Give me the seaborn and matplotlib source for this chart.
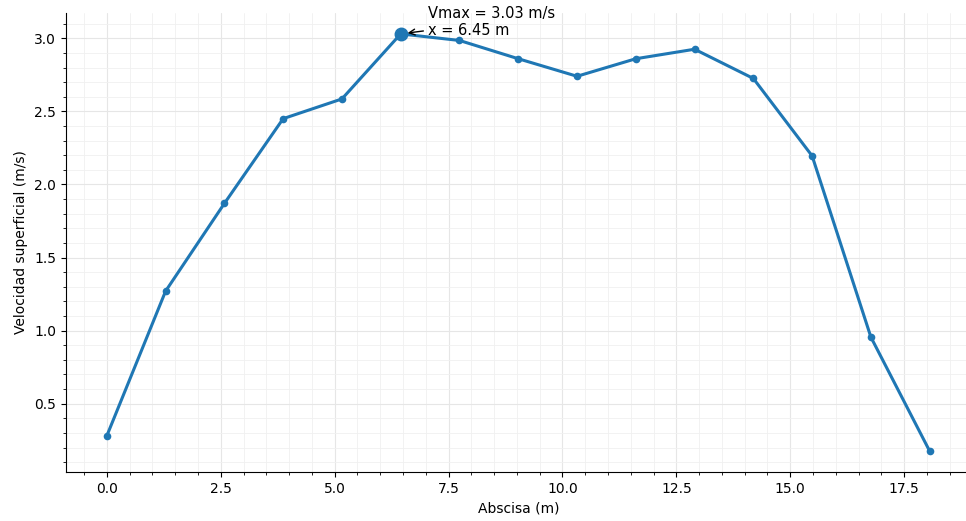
import numpy as np
import pandas as pd
import matplotlib
matplotlib.use("Agg")
import matplotlib.pyplot as plt
import seaborn as sns

# Velocity profile
abscisa = [0.0, 1.29, 2.58, 3.87, 5.16, 6.45, 7.74, 9.03, 10.32, 11.61, 12.90, 14.19, 15.48, 16.77, 18.06]
velocidad = [0.28, 1.27, 1.87, 2.45, 2.585, 3.03, 2.985, 2.86, 2.74, 2.86, 2.925, 2.725, 2.195, 0.955, 0.175]

df = pd.DataFrame({"Abscisa": abscisa, "Velocidad": velocidad})

sns.set_style("ticks", {"axes.edgecolor": "black", "text.color": "black",
                        "axes.labelcolor": "black", "xtick.color": "black",
                        "ytick.color": "black"})
plt.rcParams["font.family"] = ["DejaVu Sans"]

fig, ax = plt.subplots(figsize=(9.66, 5.21), dpi=100)

sns.lineplot(data=df, x="Abscisa", y="Velocidad", marker="o", markersize=5.5,
             markeredgewidth=0, linewidth=2.2, color="#1f77b4", ax=ax)

# Highlight the maximum
imax = int(np.argmax(velocidad))
xmax, vmax = abscisa[imax], velocidad[imax]
ax.plot([xmax], [vmax], "o", markersize=9, color="#1f77b4")
ax.annotate(f"Vmax = {vmax:.2f} m/s\nx = {xmax:.2f} m",
            xy=(xmax, vmax), xytext=(7.05, 3.11),
            ha="left", va="center", fontsize=10.5,
            arrowprops=dict(arrowstyle="->", color="black", lw=1,
                            shrinkA=1, shrinkB=5))

ax.set_xlabel("Abscisa (m)", fontsize=10)
ax.set_ylabel("Velocidad superficial (m/s)", fontsize=10)
ax.tick_params(labelsize=10)
ax.minorticks_on()
ax.grid(which="major", color="#e6e6e6", linewidth=0.8)
ax.grid(which="minor", color="#f0f0f0", linewidth=0.6)
ax.set_axisbelow(True)
sns.despine(ax=ax)

fig.subplots_adjust(left=0.068, right=1.005, bottom=0.094, top=0.975)
plt.savefig("out.png", dpi=100)
